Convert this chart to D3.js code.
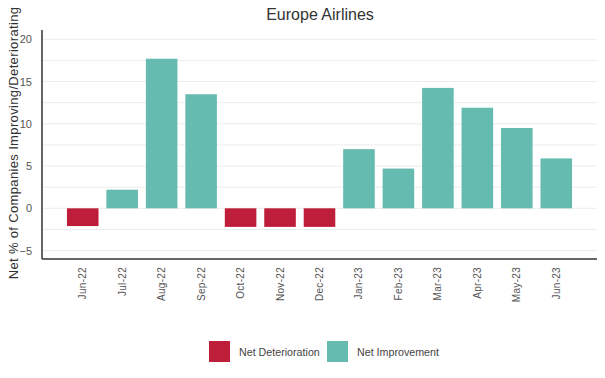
<!DOCTYPE html>
<html><head><meta charset="utf-8">
<script src="https://cdn.jsdelivr.net/npm/d3@7"></script>
<style>body{margin:0;background:#fff;font-family:"Liberation Sans",Arial,sans-serif;}</style>
</head><body>
<svg id="c" width="605" height="378"></svg>
<script>
const categories = ["Jun-22","Jul-22","Aug-22","Sep-22","Oct-22","Nov-22","Dec-22","Jan-23","Feb-23","Mar-23","Apr-23","May-23","Jun-23"];
const values = [-2.1, 2.2, 17.7, 13.5, -2.2, -2.2, -2.2, 7.0, 4.7, 14.25, 11.9, 9.5, 5.9];
const yTicks = [-5, 0, 5, 10, 15, 20];
const gridTicks = [-5, -2.5, 0, 2.5, 5, 7.5, 10, 12.5, 15, 17.5, 20];
const seriesNames = ["Net Deterioration", "Net Improvement"];
const colors = {"Net Deterioration": "#be1e3a", "Net Improvement": "#66bbb0"};

(function () {
const svg = d3.select("#c");
const mLeft = 42, mRight = 597, mTop = 30, mBottom = 259;
const y = d3.scaleLinear().domain([-6, 21.1]).range([mBottom, mTop]);
const x = d3.scaleBand().domain(categories).range([63, 576]).paddingInner(0.2).paddingOuter(0.1);

// grid
svg.append("g").selectAll("line").data(gridTicks).join("line")
  .attr("x1", mLeft).attr("x2", mRight)
  .attr("y1", d => y(d)).attr("y2", d => y(d))
  .attr("stroke", "#ececec").attr("stroke-width", 1);

// bars
svg.append("g").selectAll("rect").data(values).join("rect")
  .attr("x", (d, i) => x(categories[i]))
  .attr("width", x.bandwidth())
  .attr("y", d => y(Math.max(0, d)))
  .attr("height", d => Math.abs(y(d) - y(0)))
  .attr("fill", d => d < 0 ? colors["Net Deterioration"] : colors["Net Improvement"]);

// y axis
const ya = svg.append("g").attr("transform", `translate(${mLeft},0)`)
  .call(d3.axisLeft(y).tickValues(yTicks).tickSize(0).tickPadding(10));
ya.select(".domain").remove();
ya.selectAll("text").attr("font-size", 11).attr("fill", "#555").attr("font-family", '"Liberation Sans",Arial,sans-serif');

// x axis
const xa = svg.append("g").attr("transform", `translate(0,${mBottom})`)
  .call(d3.axisBottom(x).tickSize(0).tickPadding(0));
xa.select(".domain").remove();
xa.selectAll("text")
  .attr("font-size", 10).attr("fill", "#555").attr("font-family", '"Liberation Sans",Arial,sans-serif')
  .attr("letter-spacing", "0.3px")
  .attr("transform", "rotate(-90)")
  .attr("text-anchor", "end")
  .attr("x", -8).attr("y", 0).attr("dy", "0.35em");

// axis lines
svg.append("line").attr("x1", mLeft).attr("x2", mLeft).attr("y1", mTop).attr("y2", mBottom)
  .attr("stroke", "#333").attr("stroke-width", 1.5);
svg.append("line").attr("x1", mLeft).attr("x2", mRight).attr("y1", mBottom).attr("y2", mBottom)
  .attr("stroke", "#333").attr("stroke-width", 1.5);

// title
svg.append("text").attr("x", 320).attr("y", 20).attr("text-anchor", "middle")
  .attr("font-size", 16).attr("fill", "#333").text("Europe Airlines");

// y label
svg.append("text").attr("transform", "translate(18,143) rotate(-90)")
  .attr("text-anchor", "middle").attr("font-size", 13).attr("fill", "#333")
  .attr("letter-spacing", "0.35px")
  .text("Net % of Companies Improving/Deteriorating");

// legend
const lg = svg.append("g");
const lx = [209, 327];
seriesNames.forEach((s, i) => {
  lg.append("rect").attr("x", lx[i]).attr("y", 341).attr("width", 21).attr("height", 21).attr("fill", colors[s]);
  lg.append("text").attr("x", lx[i] + 30).attr("y", 352).attr("dy", "0.35em")
    .attr("font-size", 10.7).attr("fill", "#444").text(s);
});
})();
</script>
</body></html>
